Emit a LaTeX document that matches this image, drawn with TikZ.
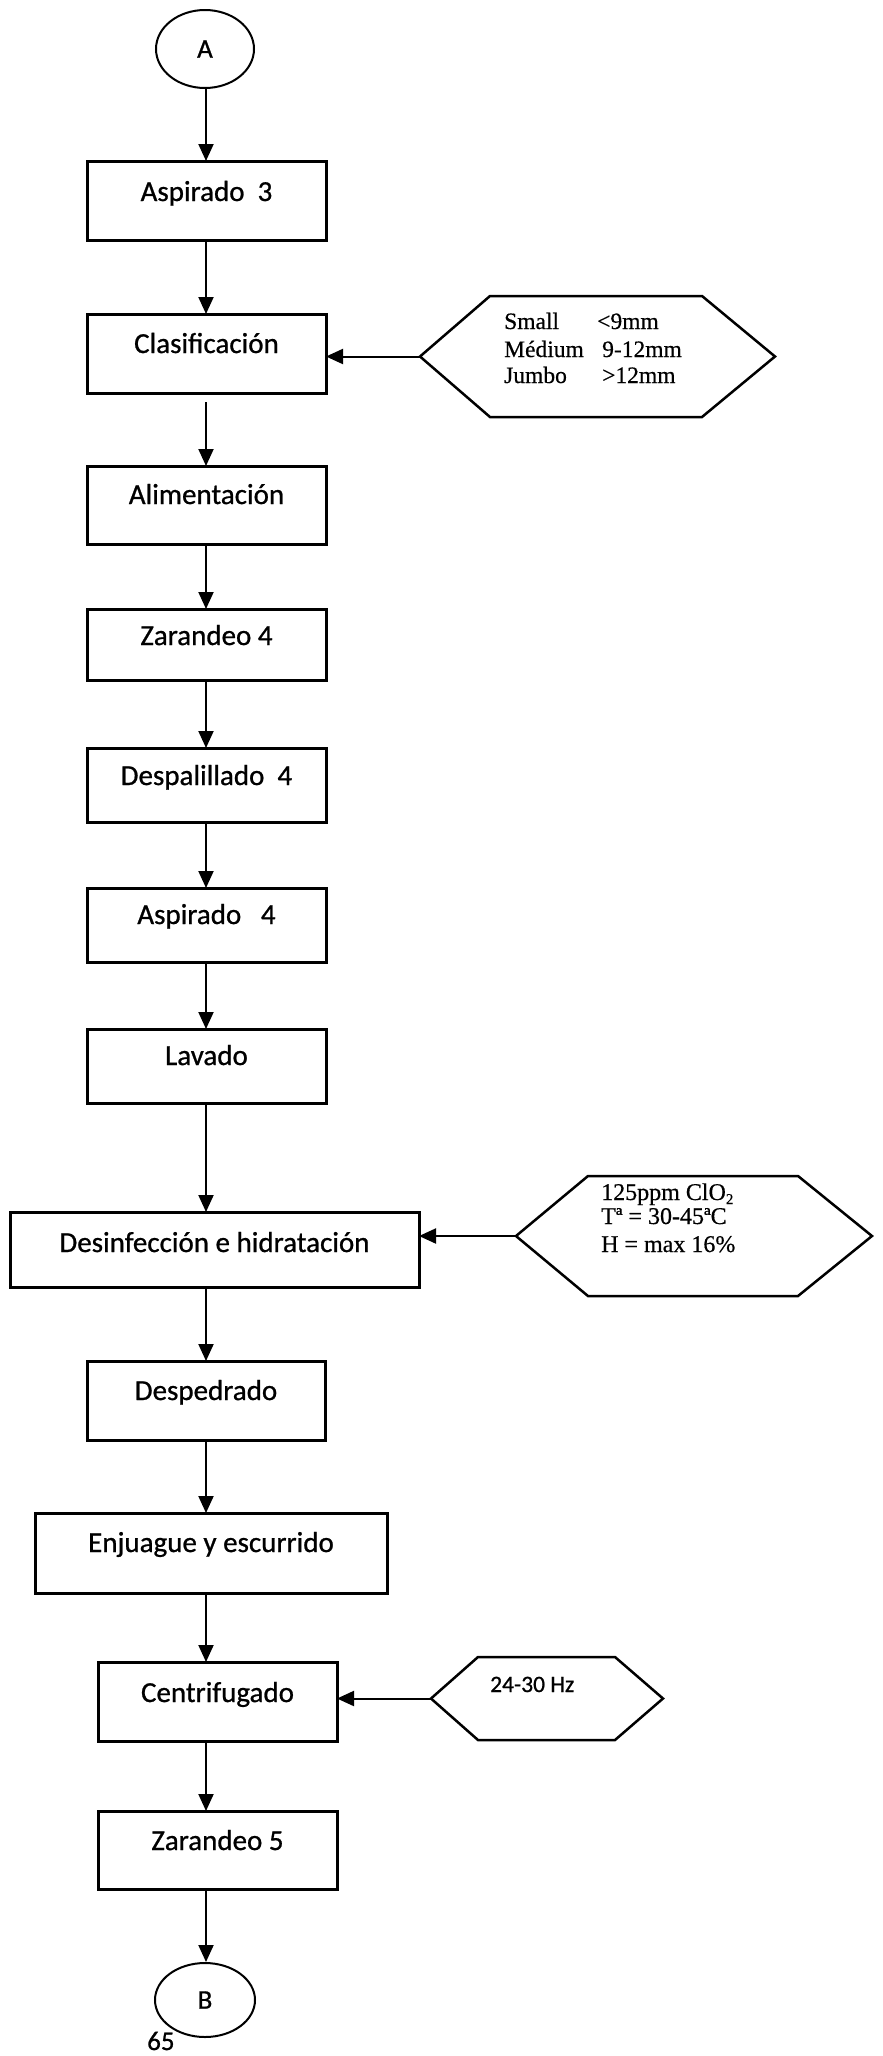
\documentclass[tikz,border=0pt]{standalone}
\usepackage{fontspec}
\setmainfont{Carlito}[FakeBold=0.8]
\newfontfamily\notefont{Liberation Serif}[FakeBold=0.5]
\usetikzlibrary{arrows.meta,shapes.geometric}

\begin{document}
\begin{tikzpicture}[x=1pt,y=-1pt,
  stepbox/.style={draw, line width=3pt, inner sep=0pt, outer sep=0pt,
    font=\fontsize{29}{29}\selectfont},
  connector/.style={draw, ellipse, line width=2pt, inner sep=0pt,
    font=\fontsize{27}{27}\selectfont},
  hexholder/.style={rectangle, inner sep=0pt, outer sep=0pt},
  hexline/.style={line width=2.5pt, line join=miter},
  note/.style={anchor=base west, inner sep=0pt, font=\notefont\fontsize{23.5}{23.5}\selectfont},
  arr/.style={line width=2pt, -{Triangle[length=17pt,width=15pt]}},
]
\useasboundingbox (0,0) rectangle (883,2056);
\fill[white] (0,0) rectangle (883,2056);
\coordinate (axis) at (206,0);

% start / end connectors
\node[connector, minimum width=98pt, minimum height=78pt] (A) at (205,49) {A};
\node[connector, minimum width=100pt, minimum height=74pt] (B) at (205,2000) {B};
\node[anchor=base west, inner sep=0pt, font=\fontsize{27}{27}\selectfont] (pg) at (147,2050) {65};

% process steps
\node[stepbox, minimum width=239pt, text height=40pt, text depth=39pt] (b1) at (206.5,200.5) {Aspirado~~3};
\node[stepbox, minimum width=239pt, text height=39pt, text depth=40pt] (b2) at (206.5,353.5) {Clasificación};
\node[stepbox, minimum width=239pt, text height=38pt, text depth=40pt] (b3) at (206.5,505) {Alimentación};
\node[stepbox, minimum width=239pt, text height=36pt, text depth=35pt] (b4) at (206.5,644.5) {Zarandeo 4};
\node[stepbox, minimum width=239pt, text height=37pt, text depth=37pt] (b5) at (206.5,785) {Despalillado~~4};
\node[stepbox, minimum width=239pt, text height=36pt, text depth=38pt] (b6) at (206.5,925) {Aspirado~~~4};
\node[stepbox, minimum width=239pt, text height=36pt, text depth=38pt] (b7) at (206.5,1066) {Lavado};
\node[stepbox, minimum width=409pt, text height=40pt, text depth=35pt] (b8) at (214.5,1249.5) {Desinfección e hidratación};
\node[stepbox, minimum width=238pt, text height=39pt, text depth=40pt] (b9) at (206,1400.5) {Despedrado};
\node[stepbox, minimum width=352pt, text height=39pt, text depth=41pt] (b10) at (211,1553) {Enjuague y escurrido};
\node[stepbox, minimum width=239pt, text height=40pt, text depth=39pt] (b11) at (217.5,1701.5) {Centrifugado};
\node[stepbox, minimum width=239pt, text height=39pt, text depth=39pt] (b12) at (217.5,1850) {Zarandeo 5};

% side data hexagons
\node[hexholder, minimum width=355pt, minimum height=121pt] (h1) at (597.5,356.5) {};
\draw[hexline] (h1.west) -- ([xshift=70pt]h1.north west) -- ([xshift=-73pt]h1.north east)
  -- (h1.east) -- ([xshift=-73pt]h1.south east) -- ([xshift=70pt]h1.south west) -- cycle;
\node[hexholder, minimum width=356pt, minimum height=120pt] (h2) at (694,1236) {};
\draw[hexline] (h2.west) -- ([xshift=72pt]h2.north west) -- ([xshift=-74pt]h2.north east)
  -- (h2.east) -- ([xshift=-74pt]h2.south east) -- ([xshift=72pt]h2.south west) -- cycle;
\node[hexholder, minimum width=232pt, minimum height=83pt] (h3) at (547,1698.5) {};
\draw[hexline] (h3.west) -- ([xshift=47pt]h3.north west) -- ([xshift=-48pt]h3.north east)
  -- (h3.east) -- ([xshift=-48pt]h3.south east) -- ([xshift=47pt]h3.south west) -- cycle;

% hexagon texts
\node[note] (s1) at (504,329) {Small};
\node[note] (s2) at (597,329) {<9mm};
\node[note] (m1) at (504,357) {Médium};
\node[note] (m2) at (602,357) {9-12mm};
\node[note] (j1) at (504,383) {Jumbo};
\node[note] (j2) at (602,383) {>12mm};

\node[note, font=\notefont\fontsize{24}{24}\selectfont] (c1) at (601,1200) {125ppm ClO\raisebox{-4pt}{\fontsize{15}{15}\selectfont 2}};
\node[note, font=\notefont\fontsize{24}{24}\selectfont] (c2) at (601,1224) {Tª = 30-45ªC};
\node[note, font=\notefont\fontsize{24}{24}\selectfont] (c3) at (601,1252) {H = max 16\%};

\node[anchor=base west, inner sep=0pt, font=\fontsize{23.5}{23.5}\selectfont] (hz) at (490,1692) {24-30 Hz};

% main flow
\draw[arr] (A.south -| axis) -- (b1.north -| axis);
\draw[arr] (b1.south -| axis) -- (b2.north -| axis);
\draw[arr, shorten <=9pt] (b2.south -| axis) -- (b3.north -| axis);
\draw[arr] (b3.south -| axis) -- (b4.north -| axis);
\draw[arr] (b4.south -| axis) -- (b5.north -| axis);
\draw[arr] (b5.south -| axis) -- (b6.north -| axis);
\draw[arr] (b6.south -| axis) -- (b7.north -| axis);
\draw[arr] (b7.south -| axis) -- (b8.north -| axis);
\draw[arr] (b8.south -| axis) -- (b9.north -| axis);
\draw[arr] (b9.south -| axis) -- (b10.north -| axis);
\draw[arr] (b10.south -| axis) -- (b11.north -| axis);
\draw[arr] (b11.south -| axis) -- (b12.north -| axis);
\draw[arr] (b12.south -| axis) -- (B.north -| axis);

% inputs from the side
\draw[arr] (h1.west) -- (h1.west -| b2.east);
\draw[arr] (h2.west) -- (h2.west -| b8.east);
\draw[arr] (h3.west) -- (h3.west -| b11.east);
\end{tikzpicture}
\end{document}
